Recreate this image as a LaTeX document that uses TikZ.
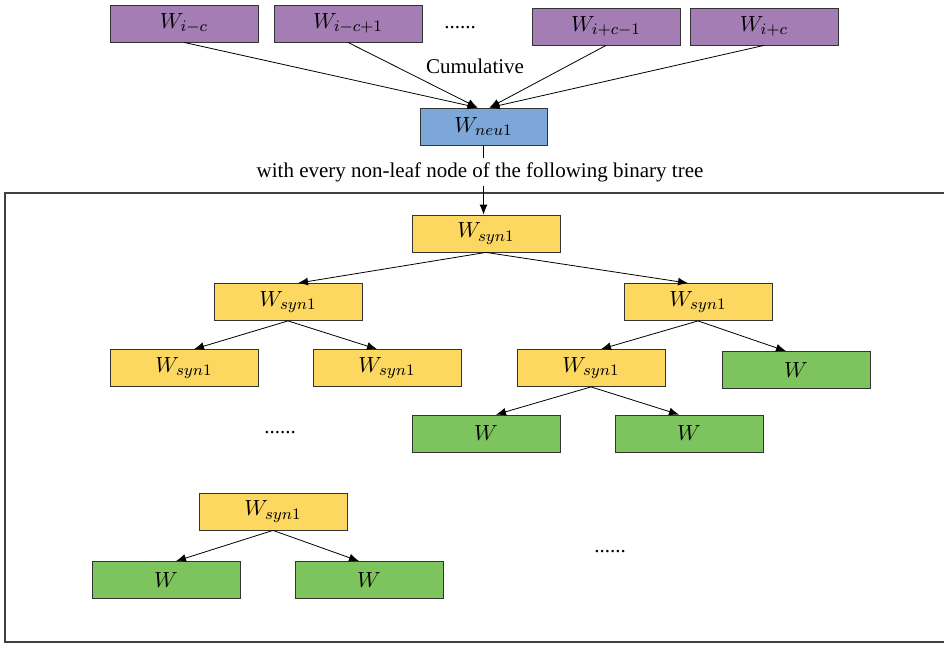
\documentclass[tikz,border=0pt]{standalone}
\usepackage{fontspec}
\setmainfont{Liberation Serif}
\usetikzlibrary{arrows.meta, calc}
\definecolor{wpurple}{RGB}{164,125,180}
\definecolor{wblue}{RGB}{124,167,216}
\definecolor{wyellow}{RGB}{253,216,96}
\definecolor{wgreen}{RGB}{125,196,95}

\begin{document}
\begin{tikzpicture}[x=0.5pt, y=-0.5pt,
  wbox/.style={draw=black!80, minimum width=74pt, minimum height=18.5pt,
    inner sep=0pt, font=\fontsize{11}{13}\selectfont},
  ctx/.style={wbox, fill=wpurple},
  neu/.style={wbox, fill=wblue, minimum width=63.5pt},
  syn/.style={wbox, fill=wyellow},
  leaf/.style={wbox, fill=wgreen},
  txt/.style={font=\fontsize{10.5}{12}\selectfont, inner sep=2pt},
  link/.style={-{Latex[length=5pt,width=4pt]}, thin}]
  \useasboundingbox (0,0) rectangle (945,644);
  % Context words
  \foreach \n/\x/\y/\t in {1/184/23.5/{i-c}, 2/348/23.5/{i-c+1},
                          3/606/26.5/{i+c-1}, 4/764/26.5/{i+c}} {
    \node[ctx] (c\n) at (\x,\y) {$W_{\t}$};
  }
  \node[txt] (dots1) at (460,28) {......};
  \node[txt] (cum) at (475,66) {Cumulative};
  % Projection
  \node[neu] (neu1) at (483.5,126.5) {$W_{neu1}$};
  \foreach \n in {1,2} \draw[link] (c\n.south) -- ([xshift=-3pt]neu1.north);
  \foreach \n in {3,4} \draw[link] (c\n.south) -- ([xshift=3pt]neu1.north);
  \node[txt] (note) at (480,172) {with every non-leaf node of the following binary tree};
  \draw[thin] (neu1.south) -- (neu1.south |- note.north);
  % Tree frame
  \draw[black!75, line width=0.6pt] (944,193) -- (5,193) -- (5,642) -- (944,642);
  % Binary tree
  \node[syn] (r) at (486,233.5) {$W_{syn1}$};
  \node[syn] (a) at (288,302) {$W_{syn1}$};
  \node[syn] (b) at (698,302) {$W_{syn1}$};
  \node[syn] (aa) at (184,368) {$W_{syn1}$};
  \node[syn] (ab) at (387,368) {$W_{syn1}$};
  \node[syn] (ba) at (591,368) {$W_{syn1}$};
  \node[leaf] (bb) at (796,370) {$W$};
  \node[leaf] (baa) at (486,433.5) {$W$};
  \node[leaf] (bab) at (689,433.5) {$W$};
  \node[txt] (dots2) at (280,433) {......};
  \node[syn] (s) at (273,511.5) {$W_{syn1}$};
  \node[leaf] (sa) at (166,580) {$W$};
  \node[leaf] (sb) at (369,580) {$W$};
  \node[txt] (dots3) at (610,552) {......};
  \draw[link] (neu1.south |- note.south) -- (neu1.south |- r.north);
  \foreach \p/\l/\q in {r/a/b, a/aa/ab, b/ba/bb, ba/baa/bab, s/sa/sb} {
    \draw[link] (\p.south) -- ([xshift=5pt]\l.north);
    \draw[link] (\p.south) -- ([xshift=-5pt]\q.north);
  }
\end{tikzpicture}
\end{document}
